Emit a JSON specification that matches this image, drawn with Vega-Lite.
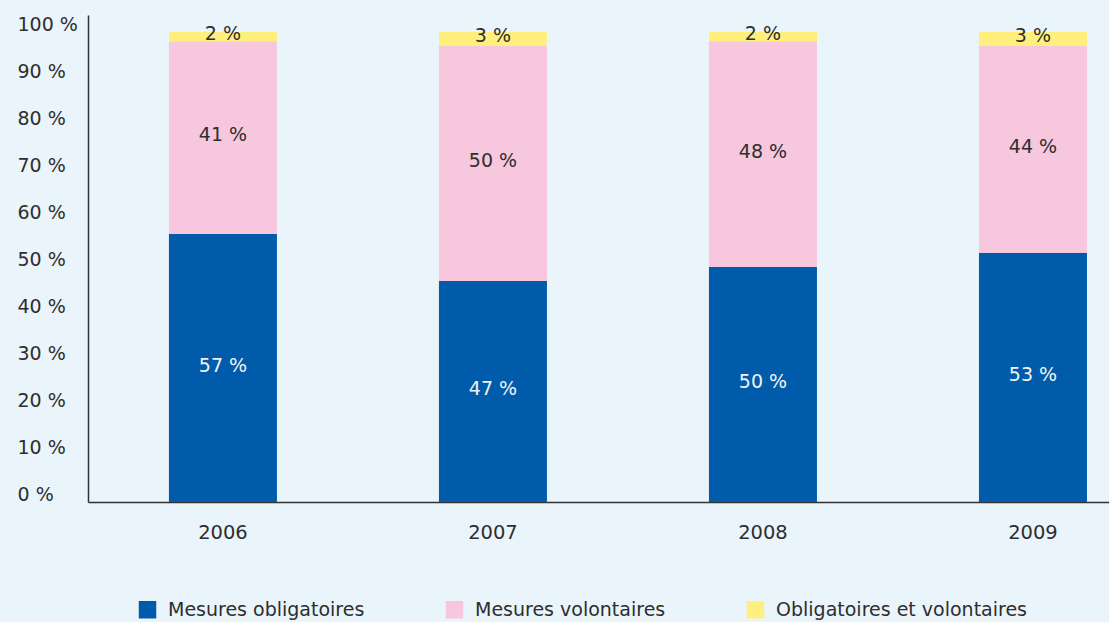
{
  "$schema": "https://vega.github.io/schema/vega-lite/v6.json",
  "width": 1021,
  "height": 487,
  "autosize": {"type": "none"},
  "padding": {"left": 88, "top": 15, "right": 0, "bottom": 120},
  "background": "#EAF4FB",
  "config": {
    "view": {"stroke": null},
    "font": "DejaVu Sans",
    "text": {"font": "DejaVu Sans"}
  },
  "data": {
    "values": [
      {"annee": "2006", "serie": "Mesures obligatoires", "ord": 1, "value": 57, "label": "57 %"},
      {"annee": "2006", "serie": "Mesures volontaires", "ord": 2, "value": 41, "label": "41 %"},
      {"annee": "2006", "serie": "Obligatoires et volontaires", "ord": 3, "value": 2, "label": "2 %"},
      {"annee": "2007", "serie": "Mesures obligatoires", "ord": 1, "value": 47, "label": "47 %"},
      {"annee": "2007", "serie": "Mesures volontaires", "ord": 2, "value": 50, "label": "50 %"},
      {"annee": "2007", "serie": "Obligatoires et volontaires", "ord": 3, "value": 3, "label": "3 %"},
      {"annee": "2008", "serie": "Mesures obligatoires", "ord": 1, "value": 50, "label": "50 %"},
      {"annee": "2008", "serie": "Mesures volontaires", "ord": 2, "value": 48, "label": "48 %"},
      {"annee": "2008", "serie": "Obligatoires et volontaires", "ord": 3, "value": 2, "label": "2 %"},
      {"annee": "2009", "serie": "Mesures obligatoires", "ord": 1, "value": 53, "label": "53 %"},
      {"annee": "2009", "serie": "Mesures volontaires", "ord": 2, "value": 44, "label": "44 %"},
      {"annee": "2009", "serie": "Obligatoires et volontaires", "ord": 3, "value": 3, "label": "3 %"}
    ]
  },
  "encoding": {
    "x": {
      "field": "annee",
      "type": "nominal",
      "scale": {"paddingInner": 0.6, "paddingOuter": 0.1907, "align": 0.786, "round": false},
      "axis": {
        "title": null,
        "labelAngle": 0,
        "ticks": false,
        "labelPadding": 21,
        "labelFontSize": 19.5,
        "labelColor": "#2e2e2e",
        "labelFont": "DejaVu Sans",
        "domainColor": "#333333",
        "domainWidth": 1.5,
        "grid": false
      }
    }
  },
  "layer": [
    {
      "mark": {"type": "bar"},
      "encoding": {
        "y": {
          "field": "value",
          "type": "quantitative",
          "stack": "zero",
          "scale": {"domain": [0, 103.6], "nice": false, "zero": true},
          "axis": {
            "title": null,
            "values": [0, 10, 20, 30, 40, 50, 60, 70, 80, 90, 100],
            "labelExpr": "datum.value + ' %'",
            "labelAlign": "left",
            "labelPadding": 71,
            "ticks": false,
            "labelOffset": -7.5,
            "labelFontSize": 19,
            "labelColor": "#2e2e2e",
            "labelFont": "DejaVu Sans",
            "domainColor": "#333333",
            "domainWidth": 1.5,
            "grid": false
          }
        },
        "color": {
          "field": "serie",
          "type": "nominal",
          "scale": {
            "domain": ["Mesures obligatoires", "Mesures volontaires", "Obligatoires et volontaires"],
            "range": ["#005BAA", "#F7C7DD", "#FFF07E"]
          },
          "legend": {
            "title": null,
            "orient": "none",
            "legendX": 50,
            "legendY": 585,
            "direction": "horizontal",
            "symbolType": "square",
            "symbolSize": 306,
            "symbolStrokeWidth": 0,
            "labelFontSize": 19,
            "labelColor": "#2e2e2e",
            "labelFont": "DejaVu Sans",
            "labelOffset": 11,
            "labelLimit": 500,
            "columnPadding": 80,
            "padding": 0
          }
        },
        "order": {"field": "ord", "type": "quantitative"}
      }
    },
    {
      "mark": {"type": "text", "fontSize": 19, "dy": -2.5, "font": "DejaVu Sans"},
      "encoding": {
        "y": {"field": "value", "type": "quantitative", "stack": "zero", "bandPosition": 0.5},
        "text": {"field": "label"},
        "order": {"field": "ord", "type": "quantitative"},
        "color": {
          "condition": {"test": "datum.serie === 'Mesures obligatoires'", "value": "#F2F2F2"},
          "value": "#2e2e2e"
        }
      }
    }
  ]
}
